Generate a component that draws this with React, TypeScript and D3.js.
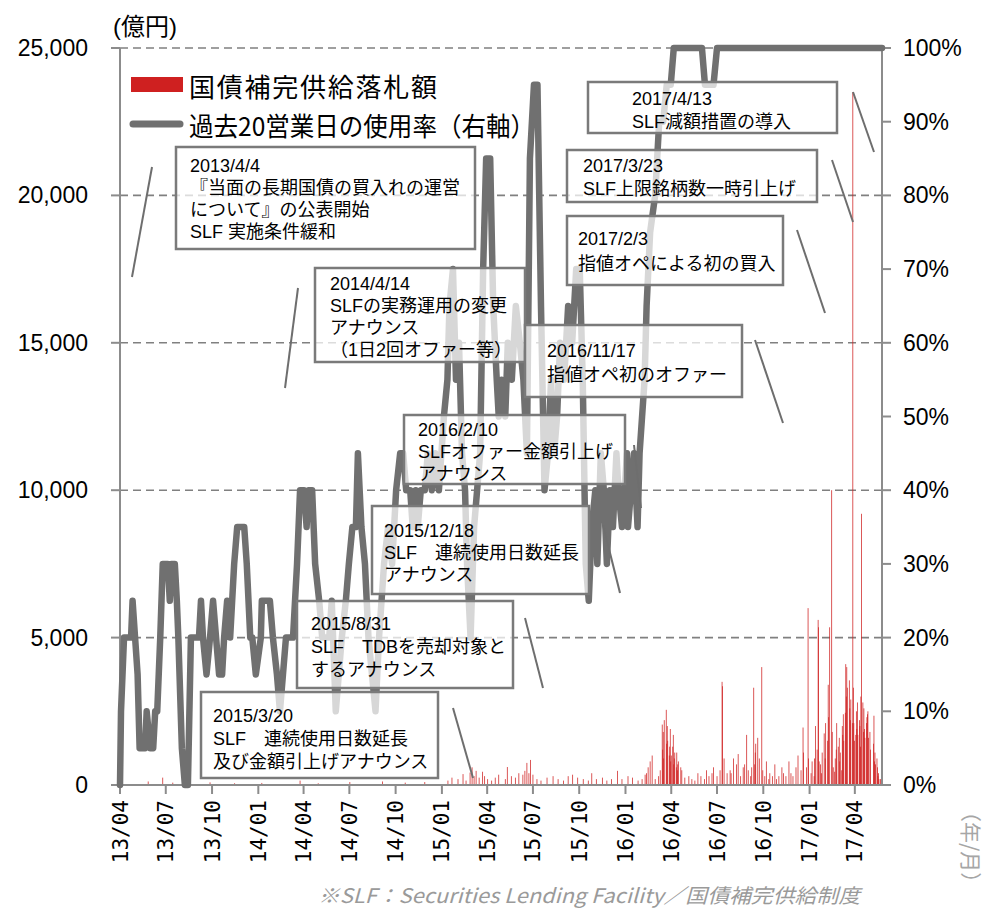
import React from "react";
import * as d3 from "d3";

// ---- data -------------------------------------------------------------

// 過去20営業日の使用率 (%), right axis
const usageRate: [string, number][] = [
  ["2013-04-01", 0], ["2013-04-03", 10], ["2013-04-09", 20], ["2013-04-23", 20], ["2013-04-26", 25],
  ["2013-05-01", 20], ["2013-05-06", 15], ["2013-05-10", 5], ["2013-05-21", 5], ["2013-05-24", 10],
  ["2013-05-31", 5], ["2013-06-06", 5], ["2013-06-10", 10], ["2013-06-14", 10], ["2013-06-20", 20],
  ["2013-06-25", 30], ["2013-07-05", 30], ["2013-07-09", 25], ["2013-07-12", 30], ["2013-07-19", 30],
  ["2013-07-23", 25], ["2013-07-26", 20], ["2013-08-02", 5], ["2013-08-08", 0], ["2013-08-14", 0],
  ["2013-08-20", 20], ["2013-09-05", 20], ["2013-09-09", 25], ["2013-09-13", 20], ["2013-09-20", 15],
  ["2013-09-27", 20], ["2013-10-03", 25], ["2013-10-09", 20], ["2013-10-15", 15], ["2013-10-21", 15],
  ["2013-10-25", 20], ["2013-10-31", 25], ["2013-11-06", 20], ["2013-11-14", 30], ["2013-11-20", 35],
  ["2013-11-26", 35], ["2013-12-04", 35], ["2013-12-09", 30], ["2013-12-16", 20], ["2013-12-20", 20],
  ["2013-12-27", 15], ["2014-01-06", 20], ["2014-01-08", 25], ["2014-01-24", 25], ["2014-01-30", 20],
  ["2014-02-07", 15], ["2014-02-13", 10], ["2014-02-19", 15], ["2014-02-25", 20], ["2014-03-11", 20],
  ["2014-03-19", 30], ["2014-03-25", 40], ["2014-04-02", 40], ["2014-04-07", 35], ["2014-04-11", 40],
  ["2014-04-18", 40], ["2014-04-24", 30], ["2014-05-02", 25], ["2014-05-08", 20], ["2014-05-22", 20],
  ["2014-05-27", 25], ["2014-06-04", 10], ["2014-06-10", 15], ["2014-06-16", 20], ["2014-06-24", 25],
  ["2014-06-30", 30], ["2014-07-07", 35], ["2014-07-14", 35], ["2014-07-18", 45], ["2014-07-25", 35],
  ["2014-08-01", 30], ["2014-08-08", 20], ["2014-08-15", 15], ["2014-08-22", 10], ["2014-08-29", 20],
  ["2014-09-08", 30], ["2014-09-16", 35], ["2014-09-24", 30], ["2014-10-02", 40], ["2014-10-10", 45],
  ["2014-10-16", 45], ["2014-10-22", 40], ["2014-10-30", 40], ["2014-11-04", 35], ["2014-11-10", 40],
  ["2014-11-14", 35], ["2014-11-20", 40], ["2014-11-28", 40], ["2014-12-04", 45], ["2014-12-12", 40],
  ["2014-12-19", 45], ["2014-12-26", 40], ["2015-01-05", 50], ["2015-01-12", 55], ["2015-01-16", 65],
  ["2015-01-23", 70], ["2015-01-29", 55], ["2015-02-04", 60], ["2015-02-10", 45], ["2015-02-16", 40],
  ["2015-02-20", 30], ["2015-02-27", 20], ["2015-03-06", 35], ["2015-03-12", 40], ["2015-03-18", 45],
  ["2015-03-24", 70], ["2015-03-30", 85], ["2015-04-07", 85], ["2015-04-13", 65], ["2015-04-20", 55],
  ["2015-04-24", 50], ["2015-04-30", 55], ["2015-05-07", 50], ["2015-05-12", 60], ["2015-05-20", 55],
  ["2015-05-28", 65], ["2015-06-05", 60], ["2015-06-12", 55], ["2015-06-19", 45], ["2015-06-25", 85],
  ["2015-07-03", 95], ["2015-07-10", 95], ["2015-07-17", 65], ["2015-07-24", 40], ["2015-07-31", 45],
  ["2015-08-06", 55], ["2015-08-12", 45], ["2015-08-18", 50], ["2015-08-24", 60], ["2015-09-01", 55],
  ["2015-09-09", 65], ["2015-09-17", 60], ["2015-09-25", 70], ["2015-10-02", 70], ["2015-10-08", 55],
  ["2015-10-14", 30], ["2015-10-20", 25], ["2015-10-26", 35], ["2015-11-02", 40], ["2015-11-06", 30],
  ["2015-11-13", 45], ["2015-11-19", 40], ["2015-11-25", 30], ["2015-12-01", 40], ["2015-12-07", 35],
  ["2015-12-14", 45], ["2015-12-18", 40], ["2015-12-25", 35], ["2016-01-04", 45], ["2016-01-06", 35],
  ["2016-01-12", 40], ["2016-01-18", 45], ["2016-01-25", 35], ["2016-01-29", 45], ["2016-02-08", 55],
  ["2016-02-12", 65], ["2016-02-19", 75], ["2016-02-29", 80], ["2016-03-08", 90], ["2016-03-16", 90],
  ["2016-03-23", 95], ["2016-03-31", 95], ["2016-04-06", 100], ["2016-06-01", 100], ["2016-06-07", 95],
  ["2016-06-24", 95], ["2016-07-01", 100], ["2017-05-25", 100],
];

// 国債補完供給落札額 (億円), left axis
const bidAmount: [string, number][] = [
  ["2013-05-27", 120], ["2013-06-25", 250], ["2013-07-15", 80], ["2013-09-27", 90], ["2013-11-15", 60],
  ["2014-01-08", 70], ["2014-03-25", 150], ["2014-04-30", 60], ["2014-07-02", 100], ["2014-09-05", 120],
  ["2014-10-20", 80], ["2014-11-28", 100],
  ["2015-01-13", 150], ["2015-01-21", 250], ["2015-02-02", 200], ["2015-02-12", 370], ["2015-02-18", 150],
  ["2015-02-26", 420], ["2015-03-02", 600], ["2015-03-06", 300], ["2015-03-10", 480], ["2015-03-16", 250],
  ["2015-03-23", 450], ["2015-03-27", 300], ["2015-04-02", 200], ["2015-04-10", 150], ["2015-04-17", 250],
  ["2015-04-24", 350], ["2015-05-07", 200], ["2015-05-11", 610], ["2015-05-19", 300], ["2015-05-27", 250],
  ["2015-06-03", 400], ["2015-06-11", 350], ["2015-06-15", 480], ["2015-06-19", 750], ["2015-06-23", 400],
  ["2015-06-26", 850], ["2015-07-01", 350], ["2015-07-09", 200], ["2015-07-17", 150], ["2015-07-29", 250],
  ["2015-08-10", 300], ["2015-08-20", 200], ["2015-08-31", 150], ["2015-09-09", 300], ["2015-09-18", 350],
  ["2015-09-28", 250], ["2015-10-09", 200], ["2015-10-19", 150], ["2015-10-26", 400], ["2015-11-04", 200],
  ["2015-11-16", 250], ["2015-11-25", 150], ["2015-12-04", 200], ["2015-12-16", 480], ["2015-12-25", 200],
  ["2016-01-06", 300], ["2016-01-15", 250], ["2016-01-26", 150], ["2016-02-03", 200], ["2016-02-09", 350],
  ["2016-02-12", 400], ["2016-02-15", 600], ["2016-02-19", 800], ["2016-02-23", 1000], ["2016-02-29", 200],
  ["2016-03-07", 300], ["2016-03-10", 500], ["2016-03-14", 2050], ["2016-03-15", 1200], ["2016-03-16", 1800],
  ["2016-03-17", 900], ["2016-03-18", 2200], ["2016-03-22", 2550], ["2016-03-23", 1400], ["2016-03-24", 2000],
  ["2016-03-25", 1500], ["2016-03-28", 1000], ["2016-03-29", 1300], ["2016-03-30", 1900], ["2016-03-31", 800],
  ["2016-04-01", 1000], ["2016-04-04", 1300], ["2016-04-05", 1700], ["2016-04-06", 700], ["2016-04-07", 900],
  ["2016-04-08", 1100], ["2016-04-11", 600], ["2016-04-12", 1100], ["2016-04-13", 500], ["2016-04-14", 700],
  ["2016-04-15", 800], ["2016-04-20", 600], ["2016-04-22", 500], ["2016-04-28", 250],
  ["2016-05-06", 300], ["2016-05-12", 200], ["2016-05-18", 150], ["2016-05-24", 400], ["2016-05-30", 300],
  ["2016-06-06", 200], ["2016-06-10", 500], ["2016-06-15", 300], ["2016-06-21", 400], ["2016-06-24", 600],
  ["2016-07-01", 300], ["2016-07-07", 500], ["2016-07-11", 3500], ["2016-07-12", 3350], ["2016-07-15", 900],
  ["2016-07-21", 400], ["2016-07-27", 500], ["2016-07-29", 400], ["2016-08-03", 900], ["2016-08-09", 700],
  ["2016-08-12", 1050], ["2016-08-17", 300], ["2016-08-22", 600], ["2016-08-25", 700], ["2016-08-29", 1700],
  ["2016-09-01", 500], ["2016-09-06", 300], ["2016-09-08", 600], ["2016-09-12", 3300], ["2016-09-14", 700],
  ["2016-09-15", 1100], ["2016-09-16", 1400], ["2016-09-20", 1600], ["2016-09-23", 900], ["2016-09-28", 4000],
  ["2016-09-30", 500], ["2016-10-04", 300], ["2016-10-07", 800], ["2016-10-12", 200], ["2016-10-14", 400],
  ["2016-10-19", 300], ["2016-10-24", 700], ["2016-10-27", 200], ["2016-11-01", 300], ["2016-11-07", 600],
  ["2016-11-10", 400], ["2016-11-15", 300], ["2016-11-21", 800], ["2016-11-25", 400], ["2016-11-29", 300],
  ["2016-12-05", 600], ["2016-12-09", 1000], ["2016-12-15", 500], ["2016-12-19", 1950], ["2016-12-20", 1100],
  ["2016-12-26", 600], ["2016-12-29", 6000], ["2016-12-30", 900], ["2017-01-04", 400], ["2017-01-06", 800],
  ["2017-01-10", 300], ["2017-01-11", 900], ["2017-01-13", 2000], ["2017-01-16", 1200], ["2017-01-18", 5600],
  ["2017-01-19", 5350], ["2017-01-20", 800], ["2017-01-23", 700], ["2017-01-25", 400], ["2017-01-26", 1100],
  ["2017-01-30", 1750], ["2017-02-01", 900], ["2017-02-02", 2100], ["2017-02-06", 1500], ["2017-02-07", 3400],
  ["2017-02-08", 2300], ["2017-02-10", 5350], ["2017-02-14", 10000], ["2017-02-15", 1800], ["2017-02-17", 600],
  ["2017-02-20", 450], ["2017-02-21", 900], ["2017-02-23", 1200], ["2017-02-24", 2100], ["2017-02-27", 1300],
  ["2017-03-01", 1600], ["2017-03-02", 800], ["2017-03-03", 1100], ["2017-03-06", 500], ["2017-03-07", 2000],
  ["2017-03-08", 1700], ["2017-03-09", 2400], ["2017-03-10", 1500], ["2017-03-13", 2450], ["2017-03-14", 4100],
  ["2017-03-15", 3000], ["2017-03-16", 4000], ["2017-03-17", 3300], ["2017-03-21", 3550], ["2017-03-22", 2600],
  ["2017-03-23", 2200], ["2017-03-24", 2900], ["2017-03-27", 2100], ["2017-03-28", 23500], ["2017-03-29", 3300],
  ["2017-03-30", 2100], ["2017-03-31", 1500], ["2017-04-03", 1700], ["2017-04-04", 2500], ["2017-04-05", 1900],
  ["2017-04-06", 2800], ["2017-04-07", 1700], ["2017-04-10", 2200], ["2017-04-11", 2000], ["2017-04-12", 1300],
  ["2017-04-13", 3000], ["2017-04-14", 9200], ["2017-04-17", 2800], ["2017-04-18", 1800], ["2017-04-19", 2600],
  ["2017-04-20", 1900], ["2017-04-21", 1600], ["2017-04-24", 2100], ["2017-04-25", 2300], ["2017-04-26", 2400],
  ["2017-04-27", 2500], ["2017-04-28", 1600], ["2017-05-01", 1800], ["2017-05-02", 1200], ["2017-05-08", 1400],
  ["2017-05-09", 2350], ["2017-05-10", 800], ["2017-05-11", 1100], ["2017-05-12", 700], ["2017-05-15", 900],
  ["2017-05-16", 600], ["2017-05-17", 300], ["2017-05-18", 400], ["2017-05-19", 200], ["2017-05-22", 200],
];

const amountTicks = [0, 5000, 10000, 15000, 20000, 25000];
const rateTicks = [0, 10, 20, 30, 40, 50, 60, 70, 80, 90, 100];
const dateRange = ["2013-04-01", "2017-05-25"];

const legendLabels = ["国債補完供給落札額", "過去20営業日の使用率（右軸）"];
const unitLabel = "(億円)";
const timeUnitLabel = "（年/月）";
const footnote = "※SLF：Securities Lending Facility／国債補完供給制度";

const noteTexts: string[][] = [
  ["2013/4/4", "『当面の長期国債の買入れの運営", "について』の公表開始", "SLF 実施条件緩和"],
  ["2014/4/14", "SLFの実務運用の変更", "アナウンス", "（1日2回オファー等）"],
  ["2016/11/17", "指値オペ初のオファー"],
  ["2016/2/10", "SLFオファー金額引上げ", "アナウンス"],
  ["2015/12/18", "SLF　連続使用日数延長", "アナウンス"],
  ["2015/8/31", "SLF　TDBを売却対象と", "するアナウンス"],
  ["2015/3/20", "SLF　連続使用日数延長", "及び金額引上げアナウンス"],
  ["2017/2/3", "指値オペによる初の買入"],
  ["2017/3/23", "SLF上限銘柄数一時引上げ"],
  ["2017/4/13", "SLF減額措置の導入"],
];

// ---- layout -----------------------------------------------------------

const W = 987;
const H = 909;
const PLOT = { left: 120, right: 882, top: 48, bottom: 785 };

// box rectangle, text origin, line gap, leader line
const noteLayout = [
  { x: 176, y: 147, w: 299, h: 102, tx: 190, ty: 172, gap: 22, lead: [152, 167, 132, 277] },
  { x: 315, y: 268, w: 210, h: 94, tx: 330, ty: 290, gap: 22, lead: [298, 288, 285, 388] },
  { x: 525, y: 325, w: 217, h: 72, tx: 547, ty: 357, gap: 24, lead: [755, 340, 783, 423] },
  { x: 404, y: 415, w: 221, h: 69, tx: 418, ty: 436, gap: 22, lead: [634, 445, 641, 508] },
  { x: 372, y: 506, w: 217, h: 88, tx: 384, ty: 537, gap: 22, lead: [603, 525, 620, 593] },
  { x: 297, y: 601, w: 216, h: 87, tx: 311, ty: 630, gap: 23, lead: [525, 618, 543, 688] },
  { x: 201, y: 692, w: 237, h: 86, tx: 213, ty: 722, gap: 23, lead: [453, 708, 473, 778] },
  { x: 567, y: 216, w: 216, h: 69, tx: 578, ty: 245, gap: 25, lead: [797, 230, 825, 313] },
  { x: 567, y: 150, w: 250, h: 52, tx: 583, ty: 172, gap: 23, lead: [832, 160, 853, 222] },
  { x: 588, y: 82, w: 249, h: 51, tx: 632, ty: 105, gap: 23, lead: [853, 92, 874, 152] },
];

const LINE_GRAY = "#707070";
const AXIS_GRAY = "#8c8c8c";
const BAR_RED = "#cf2020";
const JP_FONT = "'Noto Sans CJK JP', 'Noto Sans', sans-serif";
const NOTE_FONT = "'Liberation Sans', 'Noto Sans CJK JP', sans-serif";

const parseDate = d3.timeParse("%Y-%m-%d");
const fmtMonth = d3.timeFormat("%y/%m");
const fmtAmount = d3.format(",");

export default function App() {
  const start = parseDate(dateRange[0]) as Date;
  const end = parseDate(dateRange[1]) as Date;

  const x = d3.scaleTime().domain([start, end]).range([PLOT.left, PLOT.right]);
  const yAmount = d3.scaleLinear().domain([0, 25000]).range([PLOT.bottom, PLOT.top]);
  const yRate = d3.scaleLinear().domain([0, 100]).range([PLOT.bottom, PLOT.top]);

  const usage = usageRate.map(([d, v]) => [parseDate(d) as Date, v] as [Date, number]);
  const bids = bidAmount.map(([d, v]) => [parseDate(d) as Date, v] as [Date, number]);

  const linePath = d3
    .line<[Date, number]>()
    .x((d) => x(d[0]))
    .y((d) => yRate(d[1]))(usage) as string;

  const quarterTicks = d3.timeMonth.every(3)!.range(start, d3.timeDay.offset(end, 1));
  const barW = 0.75;

  return (
    <svg
      width={W}
      height={H}
      viewBox={`0 0 ${W} ${H}`}
      style={{ position: "absolute", left: 0, top: 0, background: "#fff" }}
    >
      <rect x={0} y={0} width={W} height={H} fill="#fff" />

      {/* dashed gridlines */}
      {amountTicks
        .filter((t) => t > 0)
        .map((t) => (
          <line
            key={`g${t}`}
            x1={PLOT.left}
            x2={PLOT.right}
            y1={yAmount(t)}
            y2={yAmount(t)}
            stroke="#808080"
            strokeWidth={1.6}
            strokeDasharray="8 5"
          />
        ))}

      {/* bars */}
      <g>
        {bids.map(([d, v], i) => (
          <rect
            key={`b${i}`}
            x={x(d) - barW / 2}
            y={yAmount(v)}
            width={barW}
            height={yAmount(0) - yAmount(v)}
            fill={BAR_RED}
          />
        ))}
      </g>

      {/* axes */}
      <g stroke={AXIS_GRAY} strokeWidth={2}>
        <line x1={PLOT.left} x2={PLOT.left} y1={PLOT.top} y2={PLOT.bottom} />
        <line x1={PLOT.right} x2={PLOT.right} y1={PLOT.top} y2={PLOT.bottom} />
        <line x1={PLOT.left - 9} x2={PLOT.right + 9} y1={PLOT.bottom} y2={PLOT.bottom} />
        {amountTicks.map((t) => (
          <line key={`lt${t}`} x1={PLOT.left - 9} x2={PLOT.left} y1={yAmount(t)} y2={yAmount(t)} />
        ))}
        {rateTicks.map((t) => (
          <line key={`rt${t}`} x1={PLOT.right} x2={PLOT.right + 9} y1={yRate(t)} y2={yRate(t)} />
        ))}
        {quarterTicks.map((d) => (
          <line key={`xt${d.getTime()}`} x1={x(d)} x2={x(d)} y1={PLOT.bottom} y2={PLOT.bottom + 9} />
        ))}
      </g>

      {/* usage-rate line */}
      <path
        d={linePath}
        fill="none"
        stroke={LINE_GRAY}
        strokeWidth={6.5}
        strokeLinejoin="round"
        strokeLinecap="round"
      />

      {/* axis labels */}
      <g fontFamily="'Liberation Sans', Arial, sans-serif" fontSize={23} fill="#000">
        {amountTicks.map((t) => (
          <text key={`la${t}`} x={88} y={yAmount(t) + 8} textAnchor="end">
            {fmtAmount(t)}
          </text>
        ))}
        {rateTicks.map((t) => (
          <text key={`ra${t}`} x={903} y={yRate(t) + 8} textAnchor="start">
            {`${t}%`}
          </text>
        ))}
        <text x={113} y={35} fontSize={24} fontFamily={`'Liberation Sans', ${JP_FONT}`}>
          {unitLabel}
        </text>
      </g>
      <g fontFamily="'DejaVu Sans Mono', monospace" fontSize={21} fill="#000">
        {quarterTicks.map((d) => (
          <text
            key={`xl${d.getTime()}`}
            transform={`translate(${x(d) + 7.5},800) rotate(-90)`}
            textAnchor="end"
          >
            {fmtMonth(d)}
          </text>
        ))}
      </g>
      <text
        transform="translate(963,801) rotate(90)"
        fontFamily={JP_FONT}
        fontSize={21}
        fill="#a6a6a6"
      >
        {timeUnitLabel}
      </text>

      {/* annotation boxes */}
      {noteTexts.map((lines, i) => {
        const b = noteLayout[i];
        return (
          <g key={`n${i}`}>
            <rect
              x={b.x}
              y={b.y}
              width={b.w}
              height={b.h}
              fill="#fff"
              fillOpacity={0.72}
              stroke="#7a7a7a"
              strokeWidth={2.5}
            />
            {lines.map((s, j) => (
              <text
                key={j}
                x={b.tx}
                y={b.ty + j * b.gap}
                fontFamily={NOTE_FONT}
                fontSize={18}
                fill="#000"
              >
                {s}
              </text>
            ))}
            <line
              x1={b.lead[0]}
              y1={b.lead[1]}
              x2={b.lead[2]}
              y2={b.lead[3]}
              stroke="#6e6e6e"
              strokeWidth={2}
            />
          </g>
        );
      })}

      {/* legend */}
      <rect x={131} y={77} width={52} height={15} fill={BAR_RED} />
      <text x={189} y={97} fontFamily={JP_FONT} fontSize={26} textLength={248} lengthAdjust="spacing" fill="#000">
        {legendLabels[0]}
      </text>
      <line x1={133} x2={180} y1={124} y2={124} stroke={LINE_GRAY} strokeWidth={7} strokeLinecap="round" />
      <text x={189} y={136} fontFamily={JP_FONT} fontSize={26} textLength={346} lengthAdjust="spacingAndGlyphs" fill="#000">
        {legendLabels[1]}
      </text>

      {/* footnote */}
      <text
        x={318}
        y={903}
        fontFamily={JP_FONT}
        fontSize={20}
        fontStyle="italic"
        fill="#9a9a9a"
        textLength={542}
        lengthAdjust="spacingAndGlyphs"
      >
        {footnote}
      </text>
    </svg>
  );
}
